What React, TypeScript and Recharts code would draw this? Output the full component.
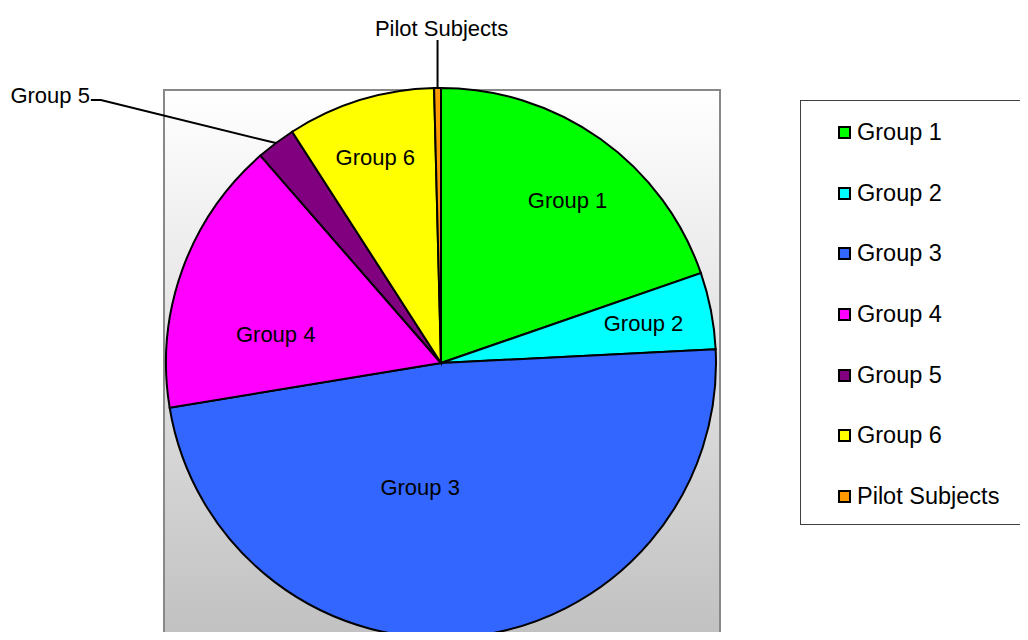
import { PieChart, Pie, Cell, Legend } from "recharts";

const groups = ["Group 1", "Group 2", "Group 3", "Group 4", "Group 5", "Group 6", "Pilot Subjects"];
const shares = [19.7, 4.5, 48.2, 16.2, 2.3, 8.7, 0.4];
const colors = ["#00ff00", "#00ffff", "#3366ff", "#ff00ff", "#800080", "#ffff00", "#ff9900"];

const data = groups.map((name, i) => ({ name, value: shares[i] }));

const RAD = Math.PI / 180;
const FONT = "Arial, 'Liberation Sans', sans-serif";

// label tweaks, relative to slice geometry (Excel "best fit" look)
const inside: Record<string, { r: number; da: number }> = {
  "Group 1": { r: 0.75, da: -2.4 },
  "Group 3": { r: 0.46, da: -15.6 },
  "Group 4": { r: 0.61, da: 10 },
  "Group 6": { r: 0.785, da: 0.6 },
};

function renderLabel(props: any) {
  const { cx, cy, midAngle, outerRadius, name } = props;
  const ex = cx + outerRadius * Math.cos(-midAngle * RAD);
  const ey = cy + outerRadius * Math.sin(-midAngle * RAD);

  if (name === "Group 5") {
    const kx = ex - 175;
    const ky = ey - 43;
    return (
      <g>
        <polyline points={`${ex},${ey} ${kx},${ky} ${kx - 10},${ky}`} fill="none" stroke="#000" strokeWidth={2} />
        <text x={kx - 11} y={ky - 5} textAnchor="end" dominantBaseline="central" fontSize={22} fontFamily={FONT} fill="#000">
          {name}
        </text>
      </g>
    );
  }
  if (name === "Pilot Subjects") {
    return (
      <g>
        <line x1={ex} y1={ey} x2={ex} y2={ey - 48} stroke="#000" strokeWidth={2} />
        <text x={ex + 4} y={ey - 60} textAnchor="middle" dominantBaseline="central" fontSize={22} fontFamily={FONT} fill="#000">
          {name}
        </text>
      </g>
    );
  }
  const t = inside[name] || { r: 0.75, da: 0 };
  const a = midAngle + t.da;
  const x = cx + outerRadius * t.r * Math.cos(-a * RAD);
  const y = cy + outerRadius * t.r * Math.sin(-a * RAD);
  return (
    <text x={x} y={y} textAnchor="middle" dominantBaseline="central" fontSize={22} fontFamily={FONT} fill="#000">
      {name}
    </text>
  );
}

function renderLegend(props: any) {
  const items = props.payload || [];
  return (
    <div
      style={{
        width: 228,
        height: 425,
        border: "1px solid #404040",
        borderRight: "none",
        background: "#fff",
        boxSizing: "border-box",
        paddingTop: 1,
      }}
    >
      {items.map((it: any) => (
        <div
          key={it.value}
          style={{
            display: "flex",
            alignItems: "center",
            height: 60.7,
            paddingLeft: 37,
            fontFamily: FONT,
            fontSize: 23.5,
            color: "#000",
            whiteSpace: "nowrap",
          }}
        >
          <span
            style={{
              display: "inline-block",
              width: 9,
              height: 9,
              border: "2px solid #000",
              background: it.color,
              marginRight: 6,
            }}
          />
          {it.value}
        </div>
      ))}
    </div>
  );
}

export default function App() {
  return (
    <div style={{ position: "relative", width: 1028, height: 640, margin: -8, overflow: "hidden", background: "#fff" }}>
      <div
        style={{
          position: "absolute",
          left: 163,
          top: 89,
          width: 554,
          height: 570,
          border: "2px solid #888",
          background: "linear-gradient(#ffffff, #c0c0c0 97%)",
        }}
      />
      <div style={{ position: "absolute", left: 0, top: 0 }}>
        <PieChart width={1028} height={640} margin={{ top: 0, right: 0, bottom: 0, left: 0 }}>
          <Pie
            data={data}
            dataKey="value"
            nameKey="name"
            cx={441}
            cy={363}
            outerRadius={275}
            startAngle={90}
            endAngle={-270}
            stroke="#000"
            strokeWidth={2}
            label={renderLabel}
            labelLine={false}
            isAnimationActive={false}
          >
            {data.map((d, i) => (
              <Cell key={d.name} fill={colors[i]} />
            ))}
          </Pie>
          <Legend
            layout="vertical"
            align="right"
            verticalAlign="top"
            content={renderLegend}
            wrapperStyle={{ position: "absolute", left: 800, top: 100, width: 228 }}
          />
        </PieChart>
      </div>
    </div>
  );
}
